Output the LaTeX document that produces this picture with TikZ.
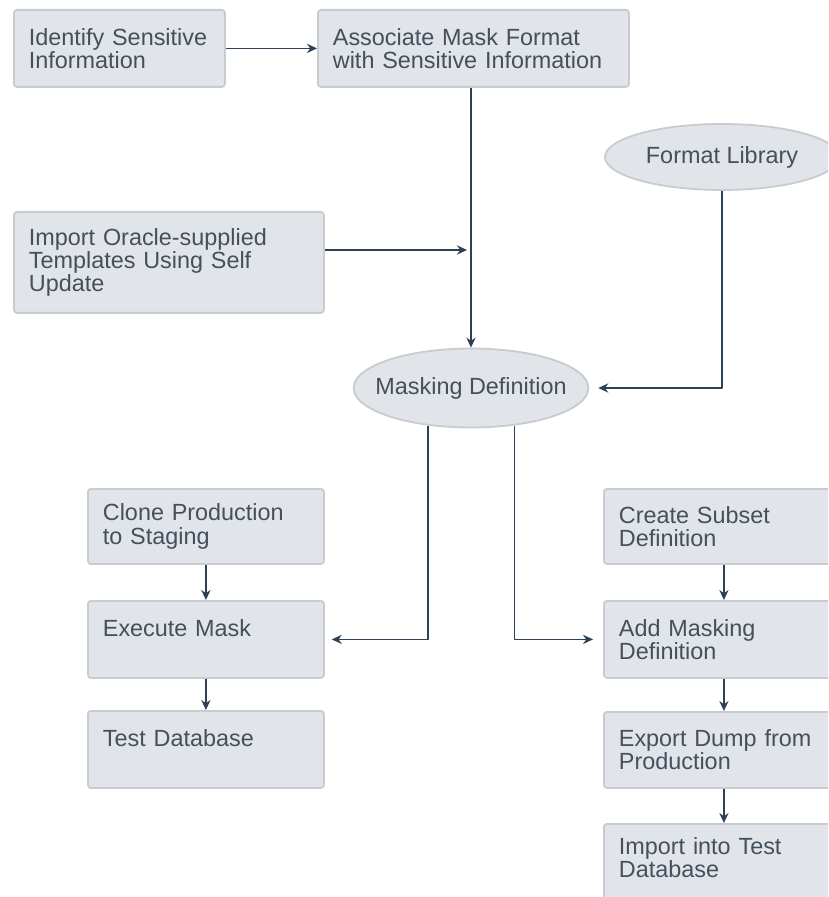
\documentclass[tikz,border=0pt]{standalone}
\usepackage{fontspec}
\setmainfont{Liberation Sans}
\usetikzlibrary{shapes.geometric,arrows.meta}
\definecolor{boxfill}{RGB}{225,229,233}
\definecolor{boxline}{RGB}{199,204,209}
\definecolor{boxtext}{RGB}{68,80,92}
\definecolor{arrowc}{RGB}{46,64,84}
\begin{document}
\begin{tikzpicture}[x=0.5pt, y=-0.5pt, font=\fontsize{11.7}{11.6}\selectfont, line join=round, >={Stealth[length=5pt,width=4.6pt]},
		box/.style={draw=boxline, fill=boxfill, line width=0.9pt, rounded corners=1.5pt, anchor=north west, align=left, inner xsep=7.5pt, inner ysep=0pt, text=boxtext},
		oval/.style={ellipse, draw=boxline, fill=boxfill, line width=0.9pt, inner sep=0pt, text=boxtext},
		conn/.style={draw=arrowc, line width=0.75pt, ->}]
			\useasboundingbox (0,0) rectangle (828,897);
			\clip (0,0) rectangle (828,897);
			% top row
			\node[box, minimum width=105.5pt, text width=90.5pt, minimum height=38.5pt] (ident) at (13,9) {Identify Sensitive\\Information};
			\node[box, minimum width=155.5pt, text width=140.5pt, minimum height=38.5pt] (assoc) at (317,9) {Associate Mask Format\\with Sensitive Information};
			\node[box, minimum width=155pt, text width=140pt, minimum height=50.5pt] (oracle) at (13,211) {Import Oracle-supplied\\Templates Using Self\\Update};
			\node[oval, minimum width=117pt, minimum height=33pt] (lib) at (722,157) {Format Library};
			\node[oval, inner xsep=-6.3pt, minimum width=116.5pt, minimum height=39.5pt] (maskdef) at (471,388) {Masking Definition};
			% left column
			\node[box, minimum width=118pt, text width=103pt, minimum height=37.5pt] (clone) at (87,488) {Clone Production\\to Staging};
			\node[box, minimum width=118pt, text width=103pt, minimum height=38.5pt] (exec) at (87,600) {Execute Mask\\~};
			\node[box, minimum width=118pt, text width=103pt, minimum height=38.5pt] (test) at (87,710) {Test Database\\~};
			% right column
			\node[box, minimum width=120pt, text width=105pt, minimum height=37.5pt] (subset) at (603,488) {Create Subset\\Definition};
			\node[box, minimum width=120pt, text width=105pt, minimum height=38.5pt] (addmask) at (603,600) {Add Masking\\Definition};
			\node[box, minimum width=120pt, text width=105pt, minimum height=38pt] (export) at (603,711) {Export Dump from\\Production};
			\node[box, minimum width=120pt, text width=105pt, minimum height=45pt] (importdb) at (603,823) {Import into Test\\Database\\~};
			\coordinate (join) at (467,250);
			\draw[conn] (ident) -- (assoc);
			\draw[conn] (assoc.south -| maskdef.north) -- (maskdef.north);
			\draw[conn] (oracle.east |- join) -- (join);
			\draw[conn, shorten >=4.5pt] (lib.south) |- (maskdef.east);
			\draw[conn, shorten >=3.5pt] (maskdef.221) |- (exec.east);
			\draw[conn, shorten >=5pt] (maskdef.319) |- (addmask.west);
			\draw[conn] (clone) -- (exec);
			\draw[conn] (exec) -- (test);
			\draw[conn] (subset) -- (addmask);
			\draw[conn] (addmask) -- (export);
			\draw[conn] (export) -- (importdb);
		\end{tikzpicture}
\end{document}
